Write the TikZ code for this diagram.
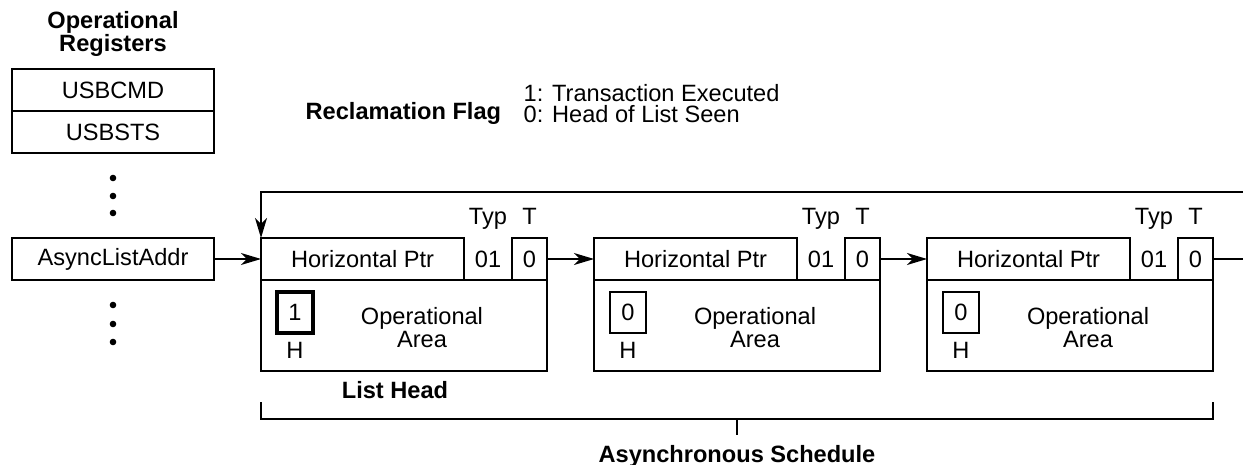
\documentclass[tikz,border=0pt]{standalone}
\usepackage{fontspec}
\setmainfont{Liberation Sans}
\usetikzlibrary{arrows.meta,positioning,calc}

\begin{document}
\begin{tikzpicture}[
  x=0.5pt, y=-0.5pt,
  font=\fontsize{11.8}{10.5}\selectfont,
  line width=0.7pt,
  reg/.style={draw, minimum width=101pt, minimum height=21pt, inner sep=0pt, outer sep=0pt},
  ptr/.style={draw, minimum width=101.5pt, minimum height=21pt, inner sep=0pt, outer sep=0pt},
  typ/.style={minimum width=24pt, minimum height=21pt, inner sep=0pt, outer sep=0pt},
  tbit/.style={draw, minimum width=17.5pt, minimum height=21pt, inner sep=0pt, outer sep=0pt},
  area/.style={draw, minimum width=143pt, minimum height=45.5pt, inner sep=0pt, outer sep=0pt},
  hbit/.style={draw, minimum width=18pt, minimum height=20.5pt, inner sep=0pt, outer sep=0pt},
  head/.style={font=\fontsize{11.8}{11.5}\selectfont\bfseries, align=center},
  lbl/.style={inner sep=0pt, anchor=base},
  arr/.style={-{Stealth[length=10pt, width=6pt, inset=3pt]}}
]
\useasboundingbox (0,0) rectangle (1243,465);

% registers
\node[head] (regtitle) at (113,34) {Operational\\Registers};
\node[reg] (usbcmd) at (113,90) {USBCMD};
\node[reg, below=0pt of usbcmd] (usbsts) {USBSTS};
\node[reg] (asyncaddr) at (113,259) {AsyncListAddr};
\fill (113,178) circle (1.65pt) (113,196) circle (1.65pt) (113,213) circle (1.65pt);
\fill (113,305) circle (1.65pt) (113,324) circle (1.65pt) (113,342) circle (1.65pt);

% reclamation flag
\node[head, anchor=base west, inner sep=0pt] (flag) at (305,120) {Reclamation Flag};
\node[align=left, anchor=north west, inner sep=0pt] (flagval) at (523,84) {1: Transaction Executed\\0: Head of List Seen};

% queue heads
\node[ptr, anchor=north west] (ptr1) at (261,238) {Horizontal Ptr};
\node[typ, right=0pt of ptr1] (typ1) {01};
\node[tbit, right=0pt of typ1] (tbit1) {0};
\node[area, anchor=north west] (area1) at (ptr1.south west) {};
\node[hbit, line width=2pt] (hbit1) at ([shift={(17pt,6.5pt)}]area1.west) {1};
\node[lbl] (hlbl1) at ([yshift=-12.5pt]hbit1.south) {H};
\node[align=center] (oparea1) at ([shift={(9pt,-1pt)}]area1.center) {Operational\\Area};
\node[lbl] (typlbl1) at ([yshift=6.5pt]typ1.north) {Typ};
\node[lbl] (tlbl1) at ([yshift=6.5pt]tbit1.north) {T};

\node[ptr, right=23.5pt of tbit1] (ptr2) {Horizontal Ptr};
\node[typ, right=0pt of ptr2] (typ2) {01};
\node[tbit, right=0pt of typ2] (tbit2) {0};
\node[area, anchor=north west] (area2) at (ptr2.south west) {};
\node[hbit] (hbit2) at ([shift={(17pt,6.5pt)}]area2.west) {0};
\node[lbl] (hlbl2) at ([yshift=-12.5pt]hbit2.south) {H};
\node[align=center] (oparea2) at ([shift={(9pt,-1pt)}]area2.center) {Operational\\Area};
\node[lbl] (typlbl2) at ([yshift=6.5pt]typ2.north) {Typ};
\node[lbl] (tlbl2) at ([yshift=6.5pt]tbit2.north) {T};

\node[ptr, right=23.5pt of tbit2] (ptr3) {Horizontal Ptr};
\node[typ, right=0pt of ptr3] (typ3) {01};
\node[tbit, right=0pt of typ3] (tbit3) {0};
\node[area, anchor=north west] (area3) at (ptr3.south west) {};
\node[hbit] (hbit3) at ([shift={(17pt,6.5pt)}]area3.west) {0};
\node[lbl] (hlbl3) at ([yshift=-12.5pt]hbit3.south) {H};
\node[align=center] (oparea3) at ([shift={(9pt,-1pt)}]area3.center) {Operational\\Area};
\node[lbl] (typlbl3) at ([yshift=6.5pt]typ3.north) {Typ};
\node[lbl] (tlbl3) at ([yshift=6.5pt]tbit3.north) {T};

\coordinate (wrapout) at (1243,259);
\coordinate (wrapin) at (1243,192);

\draw[arr] (asyncaddr.east) -- (ptr1.west);
\draw[arr] (tbit1.east) -- (ptr2.west);
\draw[arr] (tbit2.east) -- (ptr3.west);
\draw (tbit3.east) -- (wrapout);
\draw[arr] (wrapin) -| (ptr1.north west);

% bracket
\node[head, anchor=base] (listhead) at (395,398) {List Head};
\coordinate (brl) at ([yshift=-15.5pt]area1.south west);
\coordinate (brr) at ([yshift=-15.5pt]area3.south east);
\draw (brl) -- ++(0,-8.5pt) -| (brr);
\draw ($(brl)!0.5!(brr) + (0,-8.5pt)$) -- ++(0,-8pt);
\node[head, anchor=base] (sched) at (737,462) {Asynchronous Schedule};
\end{tikzpicture}
\end{document}
